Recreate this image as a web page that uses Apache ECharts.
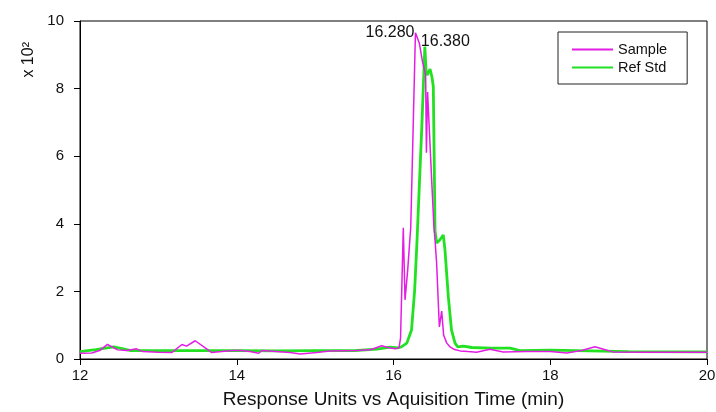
<!DOCTYPE html>
<html>
<head>
<meta charset="utf-8">
<script src="https://cdn.jsdelivr.net/npm/echarts@6/dist/echarts.min.js"></script>
<style>html,body{margin:0;padding:0;background:#fff}#c{width:716px;height:412px}</style>
</head>
<body>
<div id="c"></div>
<script>
var sampleX = [12.00,12.15,12.25,12.35,12.48,12.60,12.72,12.80,13.00,13.17,13.30,13.36,13.47,13.62,13.68,13.81,13.95,14.05,14.17,14.28,14.32,14.50,14.68,14.81,15.02,15.19,15.53,15.70,15.76,15.85,15.93,16.02,16.07,16.09,16.125,16.147,16.18,16.22,16.25,16.28,16.33,16.37,16.39,16.41,16.42,16.435,16.457,16.487,16.516,16.53,16.55,16.585,16.615,16.64,16.68,16.72,16.78,16.85,16.95,17.06,17.23,17.40,17.70,18.00,18.21,18.40,18.57,18.68,18.80,19.20,20.00];
var sampleY = [0.17,0.18,0.25,0.43,0.27,0.25,0.30,0.22,0.20,0.19,0.43,0.38,0.54,0.29,0.19,0.22,0.25,0.25,0.22,0.17,0.25,0.22,0.19,0.15,0.19,0.24,0.25,0.27,0.32,0.39,0.34,0.30,0.33,0.62,3.88,1.75,2.6,3.9,6.77,9.65,9.34,8.8,8.75,8.4,6.1,7.9,6.8,5.3,3.9,3.52,2.84,0.95,1.42,0.7,0.47,0.36,0.28,0.24,0.22,0.20,0.29,0.21,0.22,0.22,0.18,0.25,0.36,0.29,0.21,0.20,0.20];
var refX = [12.00,12.20,12.43,12.55,12.65,13.00,13.50,14.00,14.50,15.00,15.50,15.79,15.96,16.05,16.10,16.17,16.23,16.27,16.30,16.36,16.40,16.415,16.43,16.466,16.49,16.508,16.53,16.55,16.59,16.635,16.657,16.70,16.74,16.785,16.82,16.89,17.00,17.23,17.49,17.61,18.00,19.00,20.00];
var refY = [0.22,0.28,0.36,0.30,0.25,0.25,0.25,0.25,0.24,0.25,0.25,0.29,0.35,0.33,0.36,0.47,0.86,2.04,3.5,6.8,9.24,8.55,8.4,8.58,8.35,8.06,3.8,3.43,3.52,3.67,3.22,1.83,0.86,0.47,0.36,0.38,0.34,0.32,0.32,0.25,0.26,0.22,0.21];
var seriesNames = ['Sample', 'Ref Std'];
var peakLabels = ['16.280', '16.380'];
var samplePeakIdx = 39;
var refPeakIdx = 20;
var xTitle = 'Response Units vs Aquisition Time (min)';
var yTitle = 'x 10\u00B2';

function pairs(xs, ys) { return xs.map(function (x, i) { return [x, ys[i]]; }); }

var font = '"Liberation Sans", Arial, sans-serif';
var chart = echarts.init(document.getElementById('c'), null, {renderer: 'canvas'});
chart.setOption({
  animation: false,
  backgroundColor: '#fff',
  textStyle: {fontFamily: font},
  grid: {left: 80, right: 9, top: 21, bottom: 53, containLabel: false, outerBoundsMode: 'none',
    show: true, borderColor: '#000', borderWidth: 1, backgroundColor: 'transparent'},
  legend: {
    orient: 'vertical', left: 558, top: 32,
    padding: [10, 20, 9, 13], itemGap: 3, itemWidth: 41, itemHeight: 14,
    borderColor: '#222', borderWidth: 1, backgroundColor: '#fff',
    itemStyle: {opacity: 0},
    textStyle: {fontFamily: font, fontSize: 14.5, color: '#111'},
    data: seriesNames
  },
  xAxis: {
    type: 'value', min: 12, max: 20, interval: 2,
    name: xTitle, nameLocation: 'middle', nameGap: 31,
    nameTextStyle: {fontFamily: font, fontSize: 19, color: '#111'},
    axisLine: {show: true, lineStyle: {color: '#000', width: 1}},
    axisTick: {show: true, inside: false, length: 6, lineStyle: {color: '#000'}},
    axisLabel: {fontFamily: font, fontSize: 15, color: '#111', margin: 9},
    splitLine: {show: false}
  },
  yAxis: {
    type: 'value', min: 0, max: 10, interval: 2,
    axisLine: {show: true, lineStyle: {color: '#000', width: 1}},
    axisTick: {show: true, inside: false, length: 6, lineStyle: {color: '#000'}},
    axisLabel: {fontFamily: font, fontSize: 15, color: '#111', margin: 16},
    splitLine: {show: false}
  },
  graphic: [{
    type: 'text', left: 21, top: 42, rotation: Math.PI / 2,
    style: {text: yTitle, font: '16px ' + font, fill: '#111'}
  }],
  series: [{
    name: seriesNames[0], type: 'line', data: pairs(sampleX, sampleY),
    showSymbol: false, symbol: 'none',
    lineStyle: {color: '#e41de4', width: 1.5}, itemStyle: {color: '#e41de4'},
    z: 3,
    markPoint: {
      symbol: 'circle', symbolSize: 0,
      data: [{coord: [sampleX[samplePeakIdx], sampleY[samplePeakIdx]],
        label: {show: true, position: 'left', distance: 1, formatter: peakLabels[0], fontFamily: font, fontSize: 16, color: '#111'}}]
    }
  }, {
    name: seriesNames[1], type: 'line', data: pairs(refX, refY),
    showSymbol: false, symbol: 'none',
    lineStyle: {color: '#22e022', width: 2.8}, itemStyle: {color: '#22e022'},
    z: 2,
    markPoint: {
      symbol: 'circle', symbolSize: 0,
      data: [{coord: [refX[refPeakIdx], refY[refPeakIdx]],
        label: {show: true, position: 'right', distance: 0, offset: [-4, -5], formatter: peakLabels[1], fontFamily: font, fontSize: 16, color: '#111'}}]
    }
  }]
});
</script>
</body>
</html>
